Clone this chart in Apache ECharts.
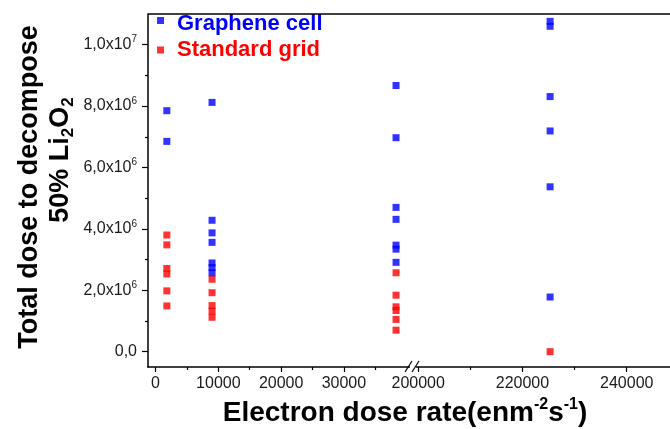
<!DOCTYPE html>
<html><head><meta charset="utf-8">
<script src="https://cdn.jsdelivr.net/npm/echarts@6/dist/echarts.min.js"></script>
<style>html,body{margin:0;padding:0;background:#fff}#c{width:670px;height:429px}</style>
</head><body><div id="c"></div>
<script>
// ---- data ----
const doseRates = [1800, 9000, 38300, 225300];
const grapheneCell = [
  [7.85e6, 6.85e6],
  [8.12e6, 4.28e6, 3.87e6, 3.56e6, 2.89e6, 2.74e6, 2.57e6],
  [8.67e6, 6.97e6, 4.70e6, 4.31e6, 3.47e6, 3.34e6, 2.91e6],
  [10.76e6, 10.60e6, 8.31e6, 7.19e6, 5.37e6, 1.78e6]
];
const standardGrid = [
  [3.80e6, 3.48e6, 2.71e6, 2.53e6, 1.98e6, 1.49e6],
  [2.36e6, 1.92e6, 1.50e6, 1.32e6, 1.12e6],
  [2.57e6, 1.84e6, 1.46e6, 1.34e6, 1.05e6, 0.70e6],
  [0.0]
];
const leftTicks = [0, 10000, 20000, 30000];
const leftMinorTicks = [5000, 15000, 25000, 35000];
const rightTicks = [200000, 220000, 240000];
const rightMinorTicks = [210000, 230000];
const yTicks = [0, 2e6, 4e6, 6e6, 8e6, 10e6];
const yMinorTicks = [1e6, 3e6, 5e6, 7e6, 9e6];
const breakValue = 100000;

// ---- helpers ----
const FF = '"Liberation Sans", Arial, sans-serif';
function pts(groups, side) {
  const out = [];
  groups.forEach((vals, i) => {
    const x = doseRates[i];
    if ((x < breakValue) === (side === 'left')) vals.forEach(v => out.push([x, v]));
  });
  return out;
}
function yFmt(v) {
  if (v === 0) return '{m|0,0}';
  const e = Math.floor(Math.log10(v) + 1e-9);
  const m = (v / Math.pow(10, e)).toFixed(1).replace('.', ',');
  return '{m|' + m + 'x10}{s|' + e + '}';
}
const lineStyle = { color: '#000', width: 1.5 };
const tickStyle = { color: '#000', width: 1.2 };
const lblStyle = { fontSize: 16, color: '#1a1a1a', fontFamily: FF };

function xMain(grid, min, max, ticks) {
  return { gridIndex: grid, type: 'value', min: min, max: max, position: 'bottom',
    axisLine: { show: true, onZero: false, lineStyle: lineStyle },
    axisTick: { show: true, length: 5, customValues: ticks, lineStyle: tickStyle },
    axisLabel: Object.assign({ customValues: ticks, margin: 9, formatter: v => String(Math.round(v)) }, lblStyle),
    splitLine: { show: false } };
}
function xMinor(grid, min, max, ticks) {
  return { gridIndex: grid, type: 'value', min: min, max: max, position: 'bottom',
    axisLine: { show: false, onZero: false },
    axisTick: { show: true, length: 3, customValues: ticks, lineStyle: tickStyle },
    axisLabel: { show: false }, splitLine: { show: false } };
}
function legendFor(name, color, top, padTop) {
  return {
    orient: 'vertical', left: 157, top: top, padding: 0,
    itemWidth: 7, itemHeight: 7, icon: 'rect', selectedMode: false,
    formatter: '{t|{name}}',
    textStyle: { fontSize: 22, fontWeight: 'bold', fontFamily: FF, color: color, padding: [0, 0, 0, 8],
      rich: { t: { fontSize: 22, fontWeight: 'bold', fontFamily: FF, color: color, padding: [padTop, 0, 0, 0] } } },
    data: [{ name: name, textStyle: { color: color } }]
  };
}

const chart = echarts.init(document.getElementById('c'), null, { renderer: 'canvas' });
chart.setOption({
  animation: false,
  backgroundColor: '#fff',
  grid: [
    { left: 148, top: 14, width: 265, bottom: 62 },
    { left: 413, top: 14, right: 0, bottom: 62 }
  ],
  xAxis: [
    xMain(0, -1200, 41000, leftTicks),
    xMinor(0, -1200, 41000, leftMinorTicks),
    xMain(1, 199000, 248300, rightTicks),
    xMinor(1, 199000, 248300, rightMinorTicks)
  ],
  yAxis: [
    { gridIndex: 0, type: 'value', min: -500000, max: 11000000, position: 'left',
      axisLine: { show: true, onZero: false, lineStyle: lineStyle },
      axisTick: { show: true, length: 6, customValues: yTicks, lineStyle: tickStyle },
      axisLabel: { customValues: yTicks, margin: 11, formatter: yFmt,
        rich: { m: { fontSize: 16, color: '#1a1a1a', fontFamily: FF, lineHeight: 20 },
                s: { fontSize: 10, color: '#1a1a1a', fontFamily: FF, verticalAlign: 'top', lineHeight: 12 } } },
      splitLine: { show: false } },
    { gridIndex: 0, type: 'value', min: -500000, max: 11000000, position: 'left',
      axisLine: { show: false, onZero: false },
      axisTick: { show: true, length: 3, customValues: yMinorTicks, lineStyle: tickStyle },
      axisLabel: { show: false }, splitLine: { show: false } },
    { gridIndex: 1, type: 'value', min: -500000, max: 11000000, show: false, splitLine: { show: false } }
  ],
  legend: [
    legendFor('Graphene cell', '#0000ff', 13, 7),
    legendFor('Standard grid', '#ff0000', 39, 0)
  ],
  series: [
    { type: 'scatter', name: 'Standard grid', xAxisIndex: 0, yAxisIndex: 0, data: pts(standardGrid, 'left'),
      symbol: 'rect', symbolSize: 7, itemStyle: { color: '#ff0000' }, z: 2 },
    { type: 'scatter', name: 'Standard grid', xAxisIndex: 2, yAxisIndex: 2, data: pts(standardGrid, 'right'),
      symbol: 'rect', symbolSize: 7, itemStyle: { color: '#ff0000' }, z: 2 },
    { type: 'scatter', name: 'Graphene cell', xAxisIndex: 0, yAxisIndex: 0, data: pts(grapheneCell, 'left'),
      symbol: 'rect', symbolSize: 7, itemStyle: { color: '#0000ff' }, z: 3 },
    { type: 'scatter', name: 'Graphene cell', xAxisIndex: 2, yAxisIndex: 2, data: pts(grapheneCell, 'right'),
      symbol: 'rect', symbolSize: 7, itemStyle: { color: '#0000ff' }, z: 3 }
  ],
  graphic: [
    { type: 'line', z: 100, shape: { x1: 148, y1: 14, x2: 670, y2: 14 }, style: { stroke: '#000', lineWidth: 1.5 } },
    { type: 'rect', z: 100, shape: { x: 410, y: 362, width: 6, height: 9 }, style: { fill: '#fff' } },
    { type: 'line', z: 101, shape: { x1: 405, y1: 372, x2: 412, y2: 361 }, style: { stroke: '#000', lineWidth: 1.2 } },
    { type: 'line', z: 101, shape: { x1: 412, y1: 372, x2: 419, y2: 361 }, style: { stroke: '#000', lineWidth: 1.2 } },
    { type: 'text', z: 100, x: 30, y: 187, rotation: Math.PI / 2,
      style: { text: 'Total dose to decompose', fontSize: 27, fontWeight: 'bold', fontFamily: FF, fill: '#000', align: 'center', verticalAlign: 'middle' } },
    { type: 'text', z: 100, x: 61, y: 160, rotation: Math.PI / 2,
      style: { text: '{a|50% Li}{b|2}{a|O}{b|2}', align: 'center', verticalAlign: 'middle', fill: '#000',
        rich: { a: { fontSize: 27, fontWeight: 'bold', fontFamily: FF, fill: '#000', lineHeight: 32 },
                b: { fontSize: 17, fontWeight: 'bold', fontFamily: FF, fill: '#000', verticalAlign: 'bottom', lineHeight: 20 } } } },
    { type: 'text', z: 100, x: 405, y: 413,
      style: { text: '{a|Electron dose rate(enm}{s|-2}{a|s}{s|-1}{a|)}', align: 'center', verticalAlign: 'middle', fill: '#000',
        rich: { a: { fontSize: 28, fontWeight: 'bold', fontFamily: FF, fill: '#000', lineHeight: 32 },
                s: { fontSize: 16, fontWeight: 'bold', fontFamily: FF, fill: '#000', verticalAlign: 'top', lineHeight: 18 } } } }
  ]
});
</script>
</body></html>
